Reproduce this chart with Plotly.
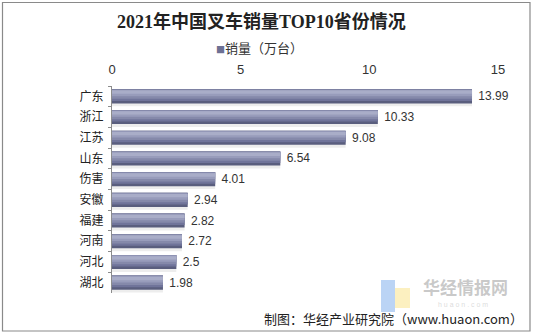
import plotly.graph_objects as go

# 2021 forklift sales by province (10k units)
provinces = ["广东", "浙江", "江苏", "山东", "伤害", "安徽", "福建", "河南", "河北", "湖北"]
sales = [13.99, 10.33, 9.08, 6.54, 4.01, 2.94, 2.82, 2.72, 2.5, 1.98]
x_ticks = [0, 5, 10, 15]

W, H = 534, 335
L, R, T, B = 112, 36, 86, 42
pw, ph = W - L - R, H - T - B


def px_x(x):
    return (x - L) / pw


def px_y(y):
    return (H - B - y) / ph


fig = go.Figure()

# soft drop shadow under each bar
fig.add_trace(go.Bar(
    x=sales, y=provinces, orientation="h",
    marker=dict(color="rgba(0,0,0,0.07)", line=dict(width=0)),
    width=0.8, offset=-0.32, hoverinfo="skip", showlegend=False,
))

# Cylinder-like shading: stacked overlays, dark base to light highlight on top
layers = [
    ("#5a5e7e", 0.68, -0.34),
    ("#70749a", 0.56, -0.34),
    ("#8589aa", 0.44, -0.33),
    ("#989cbb", 0.30, -0.31),
    ("#a9adc8", 0.16, -0.28),
]
for i, (col, w, off) in enumerate(layers):
    fig.add_trace(go.Bar(
        x=sales, y=provinces, orientation="h",
        marker=dict(color=col, line=dict(width=0)),
        width=w, offset=off,
        text=["\u00a0" + str(v) for v in sales] if i == 0 else None,
        textposition="outside" if i == 0 else "none",
        textfont=dict(family="Liberation Sans, Arial", size=12, color="#333333"),
        cliponaxis=False,
        hoverinfo="skip" if i else None,
        showlegend=False,
    ))

fig.update_layout(
    width=W, height=H,
    margin=dict(l=L, r=R, t=T, b=B),
    paper_bgcolor="white", plot_bgcolor="white",
    barmode="overlay",
    font=dict(family="Noto Sans CJK SC", color="#333333"),
    xaxis=dict(
        side="top", range=[0, 15], tickvals=x_ticks,
        showgrid=False, zeroline=False, showline=False,
        ticks="", ticklabelstandoff=8,
        tickfont=dict(family="Liberation Sans, Arial", size=13, color="#333333"),
    ),
    yaxis=dict(
        autorange="reversed", categoryorder="array", categoryarray=provinces,
        showgrid=False, zeroline=False,
        showline=True, linecolor="#8c8c8c", linewidth=1,
        ticks="outside", tickson="boundaries", ticklen=3, tickcolor="#8c8c8c",
        ticklabelstandoff=5,
        tickfont=dict(family="Noto Sans CJK SC", size=12, color="#222222"),
    ),
)

# outer frame
fig.add_shape(type="rect", xref="paper", yref="paper",
              x0=px_x(2.5), x1=px_x(530), y0=px_y(331), y1=px_y(2.5),
              line=dict(color="#8a8a8a", width=1.2), layer="below")

# watermark logo
fig.add_shape(type="rect", xref="paper", yref="paper",
              x0=px_x(381), x1=px_x(395), y0=px_y(312), y1=px_y(280),
              line=dict(width=0), fillcolor="rgba(120,170,235,0.5)", layer="below")
fig.add_shape(type="rect", xref="paper", yref="paper",
              x0=px_x(395), x1=px_x(410), y0=px_y(308), y1=px_y(288),
              line=dict(width=0), fillcolor="rgba(250,225,130,0.5)", layer="below")

annotations = [
    dict(text="<b>2021年中国叉车销量TOP10省份情况</b>",
         x=px_x(261), y=px_y(22), xanchor="center", yanchor="middle",
         font=dict(family="Liberation Serif, Noto Sans CJK SC", size=18, color="#222222")),
    dict(text="<span style='color:#6d7194;font-size:9px'>■</span>销量（万台）",
         x=px_x(259), y=px_y(47), xanchor="center", yanchor="middle",
         font=dict(family="Noto Sans CJK SC", size=13, color="#333333")),
    dict(text="<b>华经情报网</b>",
         x=px_x(465), y=px_y(286), xanchor="center", yanchor="middle",
         font=dict(family="Noto Sans CJK SC", size=17, color="rgba(165,165,165,0.6)")),
    dict(text="h u a o n . c o m",
         x=px_x(463), y=px_y(304), xanchor="center", yanchor="middle",
         font=dict(family="Liberation Sans", size=7, color="rgba(190,190,190,0.55)")),
    dict(text="制图：华经产业研究院（www.huaon.com）",
         x=px_x(525), y=px_y(318), xanchor="right", yanchor="middle",
         font=dict(family="Noto Sans CJK SC", size=13, color="#222222")),
]
for a in annotations:
    a.update(xref="paper", yref="paper", showarrow=False)
fig.update_layout(annotations=annotations)

fig.write_html("out.html")
